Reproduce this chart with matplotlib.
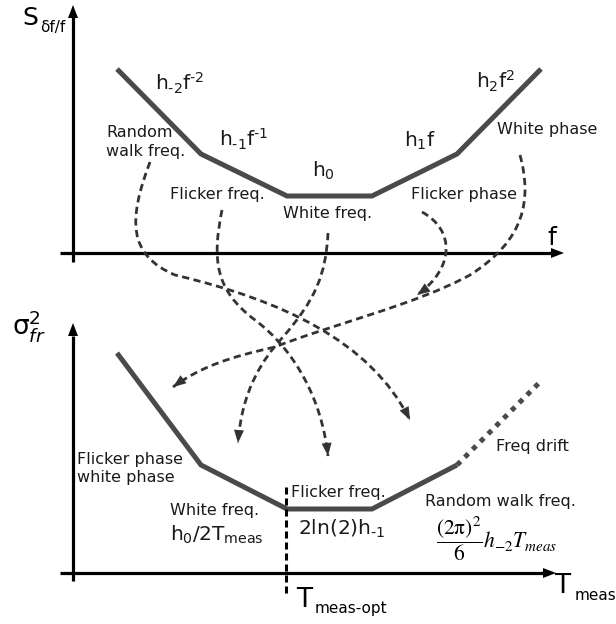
import numpy as np
import matplotlib
matplotlib.use("Agg")
import matplotlib.pyplot as plt
from matplotlib.path import Path
from matplotlib.patches import PathPatch, Polygon

plt.rcParams['font.family'] = ['DejaVu Sans']
plt.rcParams['mathtext.fontset'] = 'dejavusans'
plt.rcParams['mathtext.default'] = 'regular'

# noise slopes, drawn in picture units (x right, y down)
top_x = [117, 201, 287, 372, 457, 541]
top_y = [69, 154, 196, 196, 154, 69]
bot_x = [117, 201, 287, 372, 457]
bot_y = [353, 465, 509, 509, 465]
drift_x = [457, 541]
drift_y = [465, 381]
t_opt_x = 286

# dashed links from the spectrum to the variance (cubic bezier points)
link_random_walk = [(150, 162), (128, 220), (128, 255), (175, 275),
                    (280, 300), (370, 340), (410, 420)]
link_flicker_freq = [(222, 210), (212, 260), (215, 290), (255, 320),
                     (295, 350), (322, 400), (328, 456)]
link_white_freq = [(328, 233), (326, 275), (315, 300), (283, 337),
                   (262, 360), (242, 390), (238, 443)]
link_flicker_phase = [(422, 212), (455, 230), (455, 268), (417, 295)]
link_white_phase = [(520, 155), (532, 200), (525, 240), (470, 275),
                    (415, 305), (330, 325), (275, 347),
                    (230, 357), (200, 367), (173, 387)]

top_labels = [
    (r"$h_{\text{-}2}f^{\text{-}2}$", 155, 90, 14.5),
    (r"$h_{\text{-}1}f^{\text{-}1}$", 219, 146, 14.5),
    (r"$h_0$", 312, 177, 14.5),
    (r"$h_1f$", 404, 147, 14.5),
    (r"$h_2f^2$", 476, 89, 14.5),
    ("Random", 106, 137, 11.5),
    ("walk freq.", 106, 156, 11.5),
    ("Flicker freq.", 170, 199, 11.5),
    ("White freq.", 283, 218, 11.5),
    ("Flicker phase", 411, 199, 11.5),
    ("White phase", 497, 134, 11.5),
]
bot_labels = [
    ("Flicker phase", 77, 464, 11.5),
    ("white phase", 77, 482, 11.5),
    ("White freq.", 170, 515, 11.5),
    (r"$h_0/2T_{meas}$", 170, 541, 14.5),
    ("Flicker freq.", 291, 497, 11.5),
    (r"$2ln(2)h_{\text{-}1}$", 298, 535, 14.5),
    ("Freq drift", 496, 451, 11.5),
    ("Random walk freq.", 425, 506, 11.5),
]
# axis names: big letter, small index (text, x, y, size)
axis_names = [
    ("S", 22, 25, 18), ("δf/f", 40, 32, 11),
    ("f", 547, 245, 18),
    ("T", 296, 607, 19), ("meas-opt", 315, 613, 11),
    ("T", 554, 593, 19), ("meas", 575, 600, 11),
]
drift_formula = (r"$\dfrac{\mathrm{(2\pi)^2}}{\mathrm{6}}"
                 r"\mathit{h}_{\mathrm{-2}}\mathit{T}_{\mathit{meas}}$")

AXIS_C = 'black'
CURVE_C = '#4a4a4a'
LINK_C = '#333333'


def head(ax, tip, frm, length, width, color):
    tip = np.array(tip, float)
    d = tip - np.array(frm, float)
    d = d / np.hypot(*d)
    n = np.array([-d[1], d[0]])
    base = tip - d * length
    ax.add_patch(Polygon([tip, base + n * width / 2, base - n * width / 2],
                         closed=True, color=color, lw=0, zorder=4))


def link(ax, pts):
    codes = [Path.MOVETO] + [Path.CURVE4] * (len(pts) - 1)
    ax.add_patch(PathPatch(Path(pts, codes), fill=False, color=LINK_C,
                           lw=2.0, ls=(0, (2.6, 1.6)), capstyle='butt',
                           zorder=3))
    head(ax, pts[-1], pts[-2], 13, 10, LINK_C)


fig = plt.figure(figsize=(6.16, 6.24), dpi=100)
ax = fig.add_axes([0, 0, 1, 1])
ax.set_xlim(0, 616)
ax.set_ylim(624, 0)
ax.axis('off')

# axes with arrows
for (x0, y0), (x1, y1) in [((73, 262), (73, 17)), ((60, 253), (551, 253)),
                           ((73, 581), (73, 336)), ((60, 573), (543, 573))]:
    ax.plot([x0, x1], [y0, y1], color=AXIS_C, lw=2.3, solid_capstyle='butt')
head(ax, (73, 5), (73, 17), 13, 10, AXIS_C)
head(ax, (564, 253), (551, 253), 13, 10, AXIS_C)
head(ax, (73, 323), (73, 336), 13, 10, AXIS_C)
head(ax, (556, 573), (543, 573), 13, 10, AXIS_C)

# noise curves
ax.plot(top_x, top_y, color=CURVE_C, lw=3.6, solid_joinstyle='miter',
        solid_capstyle='butt', zorder=2)
ax.plot(bot_x, bot_y, color=CURVE_C, lw=3.6, solid_joinstyle='miter',
        solid_capstyle='butt', zorder=2)
ax.plot(drift_x, drift_y, color=CURVE_C, lw=3.6, ls=(0, (1.0, 1.2)),
        dash_capstyle='butt', zorder=2)
ax.plot([t_opt_x, t_opt_x], [487, 597], color='black', lw=2.2,
        ls=(0, (2.3, 1.3)), dash_capstyle='butt', zorder=2)

for pts in [link_random_walk, link_flicker_freq, link_white_freq,
            link_flicker_phase, link_white_phase]:
    link(ax, pts)

for txt, x, y, s in top_labels + bot_labels:
    ax.text(x, y, txt, fontsize=s, ha='left', va='baseline', color='#1a1a1a')

for txt, x, y, s in axis_names:
    ax.text(x, y, txt, fontsize=s, ha='left', va='baseline', color='black')

ax.text(12, 335, r"$\sigma^2_{\mathit{fr}}$", fontsize=19, va='baseline')
ax.text(436, 548, drift_formula, fontsize=15.5, va='baseline',
        math_fontfamily='stix')

fig.savefig("out.png", dpi=100)
